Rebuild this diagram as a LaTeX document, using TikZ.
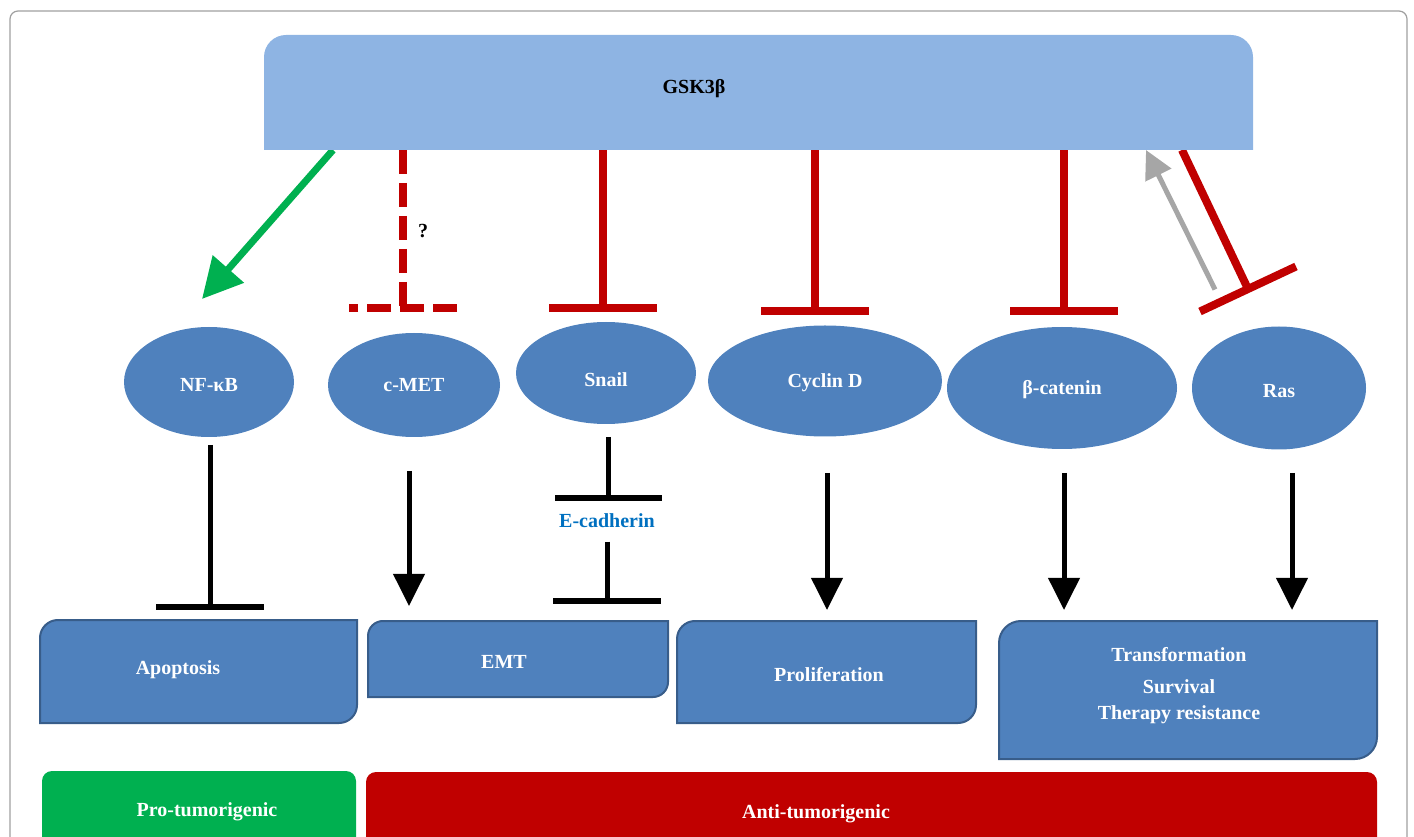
\documentclass[tikz,border=0pt]{standalone}
\usepackage{fontspec}
\setmainfont{Liberation Serif}
\usetikzlibrary{arrows.meta,calc,fit,shapes.geometric}
\definecolor{gskfill}{HTML}{8EB4E3}
\definecolor{boxblue}{HTML}{4F81BD}
\definecolor{boxedge}{HTML}{385D8A}
\definecolor{grn}{HTML}{00B050}
\definecolor{rd}{HTML}{C00000}
\definecolor{gry}{HTML}{A6A6A6}
\definecolor{ecadc}{HTML}{0070C0}
\definecolor{framec}{HTML}{A0A0A0}

% box with rounded top-left and bottom-right corners
\newcommand\diagbox[3]{\path[#3] (#1.south west) -- ($(#1.north west)+(0,#2)$)
  .. controls ($(#1.north west)+(0,0.448*#2)$) and ($(#1.north west)+(0.448*#2,0)$) .. ($(#1.north west)+(#2,0)$)
  -- (#1.north east) -- ($(#1.south east)+(0,-#2)$)
  .. controls ($(#1.south east)+(0,-0.448*#2)$) and ($(#1.south east)+(-0.448*#2,0)$) .. ($(#1.south east)+(-#2,0)$)
  -- cycle;}
% box with rounded top corners
\newcommand\topbox[3]{\path[#3] (#1.south west) -- ($(#1.north west)+(0,#2)$)
  .. controls ($(#1.north west)+(0,0.448*#2)$) and ($(#1.north west)+(0.448*#2,0)$) .. ($(#1.north west)+(#2,0)$)
  -- ($(#1.north east)+(-#2,0)$)
  .. controls ($(#1.north east)+(-0.448*#2,0)$) and ($(#1.north east)+(0,0.448*#2)$) .. ($(#1.north east)+(0,#2)$)
  -- (#1.south east) -- cycle;}

\tikzset{
  fnt/.style={font=\bfseries\fontsize{15}{18}\selectfont},
  txt/.style={fnt, inner sep=0pt, outer sep=0pt, text height=9.9pt, text depth=0pt},
  wtxt/.style={txt, text=white},
  ell/.style={ellipse, fill=boxblue, inner sep=0pt, outer sep=0pt, text=white, fnt, text height=9.9pt, text depth=0pt},
  area/.style={rectangle, inner sep=0pt, outer sep=0pt},
  boxfill/.style={fill=boxblue, draw=boxedge, line width=1.5pt},
  gskstyle/.style={fill=gskfill},
  redstem/.style={draw=rd, line width=6pt},
  reddash/.style={redstem, dash pattern=on 18pt off 6.75pt},
  greenarr/.style={draw=grn, line width=5.25pt, -{Triangle[length=30pt,width=30pt]}},
  grayarr/.style={draw=gry, line width=3.75pt, -{Triangle[length=21pt,width=21pt]}},
  blkarr/.style={draw=black, line width=3.75pt, -{Triangle[length=24pt,width=23pt]}},
  blkstem/.style={draw=black, line width=3.75pt},
  blkbar/.style={draw=black, line width=4.9pt},
}

\begin{document}
\begin{tikzpicture}[x=0.75pt, y=-0.75pt]
\useasboundingbox (0,0) rectangle (1414,837);
\clip (0,0) rectangle (1414,837);

% outer frame
\draw[framec, line width=0.9pt, rounded corners=6pt] (10,11) rectangle (1407,900);

% GSK3beta area (shape drawn later, over connector ends)
\node[area, fit={(264,35) (1253,150)}] (gsk) {};

% ellipses
\node[ell, minimum width=127.5pt, minimum height=82.5pt, text height=14.4pt] (nfkb) at (209,382) {NF-κB};
\node[ell, minimum width=129pt, minimum height=78pt] (cmet) at (414,385) {c-MET};
\node[ell, minimum width=135pt, minimum height=76.5pt, text height=20.4pt] (snail) at (606,373) {Snail};
\node[ell, minimum width=175.5pt, minimum height=83.25pt] (cyclin) at (825,381) {Cyclin D};
\node[ell, minimum width=172.5pt, minimum height=91.5pt] (bcat) at (1062,388) {β-catenin};
\node[ell, minimum width=130.5pt, minimum height=92.25pt, text height=14.4pt] (ras) at (1279,388) {Ras};

% outcome boxes
\node[area, fit={(40,620) (357,723)}] (apop) {};
\diagbox{apop}{18}{boxfill}
\node[wtxt] (apoptxt) at (178,668) {Apoptosis};

\node[area, fit={(368,621) (668,697)}] (emt) {};
\diagbox{emt}{15}{boxfill}
\node[wtxt] (emttxt) at (504,662) {EMT};

\node[area, fit={(677,621) (976,723)}] (prolif) {};
\diagbox{prolif}{18}{boxfill}
\node[wtxt] (proliftxt) at (829,675) {Proliferation};

\node[area, fit={(999,621) (1377,759)}] (trans) {};
\diagbox{trans}{22}{boxfill}
\node[wtxt] (t1) at (1179,655) {Transformation};
\node[wtxt] (t2) at (1179,687) {Survival};
\node[wtxt] (t3) at (1179,713) {Therapy resistance};

% bottom category bars
\node[area, fit={(42,771) (356,890)}, fill=grn, rounded corners=7.5pt] (pro) {};
\node[wtxt] (protxt) at (207,810) {Pro-tumorigenic};
\node[area, fit={(366,772) (1377,890)}, fill=rd, rounded corners=7.5pt] (anti) {};
\node[wtxt] (antitxt) at (816,812) {Anti-tumorigenic};

% E-cadherin label
\node[txt, text=ecadc] (ecadh) at (607,521) {E-cadherin};

% inhibition bar positions
\coordinate (ibC) at (403,308);
\coordinate (ibS) at (603,308);
\coordinate (ibD) at (815,311);
\coordinate (ibB) at (1064,311);
\coordinate (ibR) at (1248,289);

% GSK3beta -> NF-kB (activation)
\draw[greenarr] ($(gsk.south west)+(69,0)$) -- ($(nfkb.north)+(-7,-28)$);

% GSK3beta -| c-MET (uncertain, dashed)
\draw[reddash] (gsk.south -| ibC) -- (ibC);
\draw[reddash] ($(ibC)+(54,0)$) -- ($(ibC)+(-54,0)$);
\node[txt, text=black] (q) at (423,231) {?};

% GSK3beta -| Snail, Cyclin D, beta-catenin
\draw[redstem] (gsk.south -| ibS) -- (ibS);
\draw[redstem] ($(ibS)+(-54,0)$) -- ($(ibS)+(54,0)$);
\draw[redstem] (gsk.south -| ibD) -- (ibD);
\draw[redstem] ($(ibD)+(-54,0)$) -- ($(ibD)+(54,0)$);
\draw[redstem] (gsk.south -| ibB) -- (ibB);
\draw[redstem] ($(ibB)+(-54,0)$) -- ($(ibB)+(54,0)$);

% GSK3beta -| Ras, Ras -> GSK3beta
\draw[redstem] ($(gsk.south west)+(918,0)$) -- (ibR);
\draw[redstem] ($(ibR)+(-48,22.5)$) -- ($(ibR)+(48,-22.5)$);
\draw[grayarr] ($(ras.north)+(-64,-37)$) -- ($(gsk.south west)+(882,0)$);

% NF-kB -| Apoptosis
\coordinate (bN) at ($(apop.north)+(11.5,-13)$);
\draw[blkstem] ($(nfkb.south)+(1,8)$) -- (bN);
\draw[blkbar] ($(bN)+(-54,0)$) -- ($(bN)+(54,0)$);

% Snail -| E-cadherin -| EMT
\coordinate (bE1) at (608,498);
\draw[blkstem] ($(snail.south)+(2,13)$) -- (bE1);
\draw[blkbar] ($(bE1)+(-53,0)$) -- ($(bE1)+(54,0)$);
\coordinate (bE2) at (607,601);
\draw[blkstem] ($(ecadh.south)+(0,14)$) -- (bE2);
\draw[blkbar] ($(bE2)+(-54,0)$) -- ($(bE2)+(54,0)$);

% activation arrows to outcomes
\draw[blkarr] ($(cmet.south)+(-5,34)$) -- ($(emt.north)+(-109,-15)$);
\draw[blkarr] ($(cyclin.south)+(2,36.5)$) -- ($(prolif.north)+(0.5,-11)$);
\draw[blkarr] ($(bcat.south)+(2,24)$) -- ($(trans.north)+(-124,-11)$);
\draw[blkarr] ($(ras.south)+(13,23.5)$) -- ($(trans.north)+(104,-11)$);

% GSK3beta box on top of connector ends
\topbox{gsk}{22}{gskstyle}
\node[txt, text=black] (gsktxt) at (694,86.5) {GSK3β};
\end{tikzpicture}
\end{document}
